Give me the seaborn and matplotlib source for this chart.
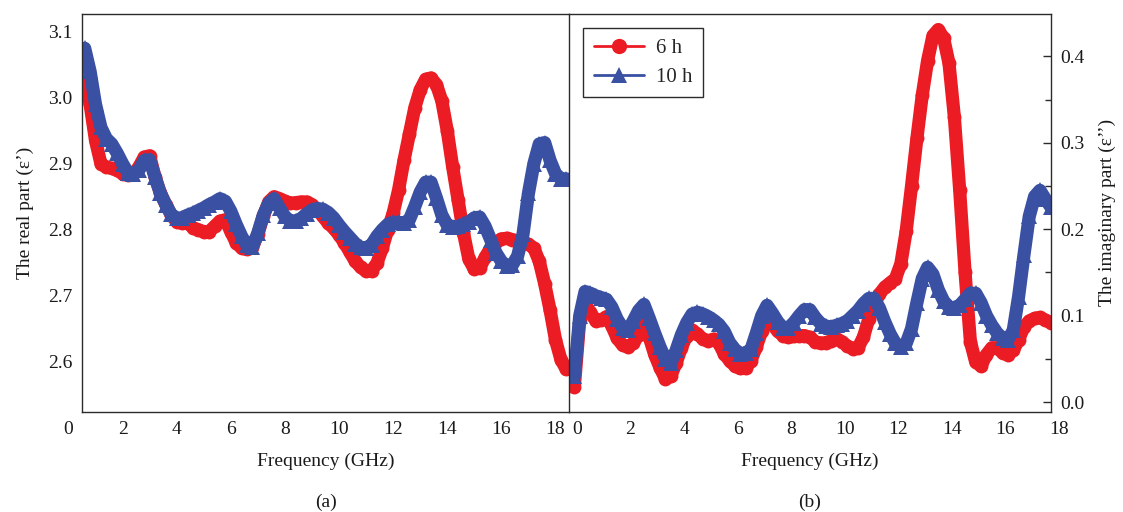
import numpy as np
import matplotlib
matplotlib.use("Agg")
import matplotlib.pyplot as plt
import matplotlib.transforms as mtransforms
from matplotlib.lines import Line2D
import seaborn as sns

# frequency sweeps (GHz)
freq_real = np.round(np.arange(0.6, 18.41, 0.2), 1)
freq_imag = np.round(np.arange(-0.1, 17.71, 0.2), 1)

# (a) real part, 6 h and 10 h
real_6h = [3.035, 2.99, 2.935, 2.90, 2.895, 2.893, 2.89, 2.885, 2.883, 2.884,
           2.895, 2.91, 2.912, 2.88, 2.855, 2.838, 2.822, 2.812, 2.81, 2.81,
           2.803, 2.80, 2.797, 2.797, 2.805, 2.813, 2.815, 2.797, 2.78, 2.772,
           2.77, 2.773, 2.793, 2.82, 2.842, 2.85, 2.847, 2.843, 2.84, 2.841,
           2.842, 2.842, 2.838, 2.83, 2.82, 2.81, 2.802, 2.792, 2.78, 2.766,
           2.752, 2.743, 2.737, 2.738, 2.749, 2.772, 2.80, 2.825, 2.86, 2.905,
           2.945, 2.985, 3.012, 3.028, 3.03, 3.02, 2.995, 2.95, 2.895, 2.845,
           2.795, 2.755, 2.74, 2.742, 2.758, 2.772, 2.781, 2.786, 2.787, 2.785,
           2.783, 2.781, 2.778, 2.772, 2.752, 2.718, 2.678, 2.633, 2.603, 2.588]
real_10h = [3.075, 3.04, 2.99, 2.955, 2.938, 2.93, 2.916, 2.90, 2.886, 2.885,
            2.89, 2.905, 2.906, 2.88, 2.855, 2.838, 2.823, 2.817, 2.818, 2.822,
            2.825, 2.829, 2.833, 2.838, 2.842, 2.847, 2.843, 2.828, 2.808, 2.79,
            2.776, 2.774, 2.795, 2.822, 2.84, 2.847, 2.833, 2.82, 2.813, 2.813,
            2.817, 2.824, 2.83, 2.832, 2.831, 2.826, 2.818, 2.807, 2.797, 2.788,
            2.779, 2.773, 2.772, 2.777, 2.79, 2.80, 2.808, 2.811, 2.811, 2.81,
            2.815, 2.835, 2.857, 2.872, 2.872, 2.848, 2.822, 2.807, 2.804, 2.805,
            2.808, 2.812, 2.818, 2.819, 2.805, 2.785, 2.765, 2.752, 2.745, 2.746,
            2.76, 2.793, 2.855, 2.90, 2.93, 2.932, 2.905, 2.885, 2.877, 2.877]

# (b) imaginary part, 6 h and 10 h
imag_6h = [0.018, 0.095, 0.113, 0.104, 0.094, 0.095, 0.099, 0.088, 0.074, 0.066,
           0.064, 0.068, 0.078, 0.089, 0.075, 0.055, 0.04, 0.027, 0.03, 0.045,
           0.063, 0.077, 0.083, 0.079, 0.073, 0.071, 0.073, 0.068, 0.056, 0.048,
           0.042, 0.039, 0.039, 0.048, 0.064, 0.082, 0.096, 0.09, 0.082, 0.077,
           0.075, 0.076, 0.077, 0.077, 0.075, 0.07, 0.068, 0.069, 0.071, 0.073,
           0.07, 0.065, 0.062, 0.063, 0.075, 0.096, 0.113, 0.125, 0.133, 0.138,
           0.143, 0.16, 0.198, 0.25, 0.305, 0.355, 0.395, 0.424, 0.431, 0.421,
           0.392, 0.33, 0.245, 0.15, 0.07, 0.046, 0.042, 0.055, 0.063, 0.063,
           0.057, 0.055, 0.06, 0.072, 0.087, 0.094, 0.097, 0.098, 0.095, 0.092]
imag_10h = [0.03, 0.10, 0.128, 0.126, 0.123, 0.121, 0.119, 0.11, 0.096, 0.086,
            0.083, 0.094, 0.106, 0.113, 0.097, 0.08, 0.064, 0.05, 0.045, 0.06,
            0.078, 0.092, 0.102, 0.104, 0.102, 0.099, 0.095, 0.09, 0.082, 0.069,
            0.061, 0.056, 0.057, 0.061, 0.08, 0.10, 0.112, 0.103, 0.093, 0.086,
            0.086, 0.092, 0.10, 0.107, 0.107, 0.098, 0.091, 0.088, 0.087, 0.089,
            0.091, 0.094, 0.10, 0.106, 0.114, 0.12, 0.12, 0.109, 0.093, 0.079,
            0.068, 0.064, 0.068, 0.085, 0.115, 0.143, 0.156, 0.148, 0.13, 0.117,
            0.11, 0.109, 0.112, 0.119, 0.126, 0.126, 0.115, 0.10, 0.089, 0.08,
            0.074, 0.072, 0.083, 0.122, 0.17, 0.215, 0.238, 0.245, 0.235, 0.226]

labels = ["6 h", "10 h"]
tick_text = [str(v) for v in range(0, 19, 2)]

RED = "#ec1c24"
BLUE = "#3a50a2"
INK = "#2b2b2b"

sns.set_style("white")
plt.rcParams["font.family"] = ["Liberation Serif", "DejaVu Serif"]

fig = plt.figure(figsize=(11.23, 5.12), dpi=100)
ax_a = fig.add_axes([0.0730, 0.1959, 0.4337, 0.7768])
ax_b = fig.add_axes([0.5067, 0.1959, 0.4289, 0.7768])
ax_b.patch.set_visible(False)


def draw_series(ax, x, y, color, marker, ms):
    # thick stroke + markers to mimic the dense marker band of the original
    sns.lineplot(x=x, y=y, ax=ax, color=color, lw=9.5, marker=marker,
                 markersize=ms, markeredgewidth=0, sort=False,
                 solid_joinstyle="round", solid_capstyle="round")


draw_series(ax_a, freq_real, real_6h, RED, "o", 10)
draw_series(ax_a, freq_real, real_10h, BLUE, "^", 11.5)
draw_series(ax_b, freq_imag, imag_6h, RED, "o", 10)
draw_series(ax_b, freq_imag, imag_10h, BLUE, "^", 11.5)

# axis ranges
ax_a.set_xlim(0.5, 18.5)
ax_a.set_ylim(2.524, 3.127)
ax_b.set_xlim(-0.3, 17.7)
ax_b.set_ylim(-0.011, 0.449)

# x ticks: marks sit at panel edges, labels a little off (as in the original)
ax_a.set_xticks(np.arange(0.5, 18.6, 2))
ax_a.set_xticks(np.arange(1.5, 18.5, 2), minor=True)
ax_a.set_xticklabels(tick_text)
ax_b.set_xticks(np.arange(-0.3, 17.8, 2))
ax_b.set_xticks(np.arange(0.7, 17.7, 2), minor=True)
ax_b.set_xticklabels(tick_text)

ax_a.set_yticks([2.6, 2.7, 2.8, 2.9, 3.0, 3.1])
ax_a.set_yticks(np.arange(2.55, 3.13, 0.1), minor=True)
ax_b.set_yticks([0.0, 0.1, 0.2, 0.3, 0.4])
ax_b.set_yticks(np.arange(0.05, 0.45, 0.1), minor=True)
ax_a.yaxis.set_major_formatter(matplotlib.ticker.FormatStrFormatter("%.1f"))
ax_b.yaxis.set_major_formatter(matplotlib.ticker.FormatStrFormatter("%.1f"))
ax_b.yaxis.tick_right()
ax_b.yaxis.set_label_position("right")

for ax in (ax_a, ax_b):
    ax.tick_params(which="both", direction="in", colors=INK, width=1,
                   labelsize=14, labelcolor="#1a1a1a", pad=7)
    ax.tick_params(which="major", length=6)
    ax.tick_params(which="minor", length=4)
    ax.tick_params(axis="x", which="both", top=False)
    for sp in ax.spines.values():
        sp.set_color(INK)
        sp.set_linewidth(1.0)
    ax.set_xlabel("Frequency (GHz)", fontsize=14, labelpad=10, color="#1a1a1a")
ax_a.spines["right"].set_visible(False)
ax_a.tick_params(axis="y", which="both", right=False)
ax_b.tick_params(axis="y", which="both", left=False)

shift_a = mtransforms.ScaledTranslation(-0.135, 0, fig.dpi_scale_trans)
shift_b = mtransforms.ScaledTranslation(0.08, 0, fig.dpi_scale_trans)
for ax, shift in ((ax_a, shift_a), (ax_b, shift_b)):
    for tick in ax.xaxis.get_major_ticks():
        tick.label1.set_transform(tick.label1.get_transform() + shift)

ax_a.set_ylabel("The real part (ε’)", fontsize=14, labelpad=10, color="#1a1a1a")
ax_b.set_ylabel("The imaginary part (ε’’)", fontsize=14, labelpad=10,
                color="#1a1a1a")

ax_a.text(0.5, -0.229, "(a)", transform=ax_a.transAxes, ha="center",
          va="center", fontsize=14, color="#1a1a1a")
ax_b.text(0.5, -0.229, "(b)", transform=ax_b.transAxes, ha="center",
          va="center", fontsize=14, color="#1a1a1a")

handles = [Line2D([], [], color=RED, marker="o", lw=2, markersize=11,
                  markeredgewidth=0),
           Line2D([], [], color=BLUE, marker="^", lw=2, markersize=12,
                  markeredgewidth=0)]
leg = ax_b.legend(handles, labels, loc="upper left", bbox_to_anchor=(0.03, 0.965),
                  borderaxespad=0, fancybox=False, frameon=True, fontsize=15,
                  handlelength=2.4, handletextpad=0.6, borderpad=0.5,
                  labelspacing=0.45)
leg.get_frame().set_edgecolor(INK)
leg.get_frame().set_linewidth(1.0)
leg.get_frame().set_alpha(1)

fig.savefig("out.png", dpi=100)
